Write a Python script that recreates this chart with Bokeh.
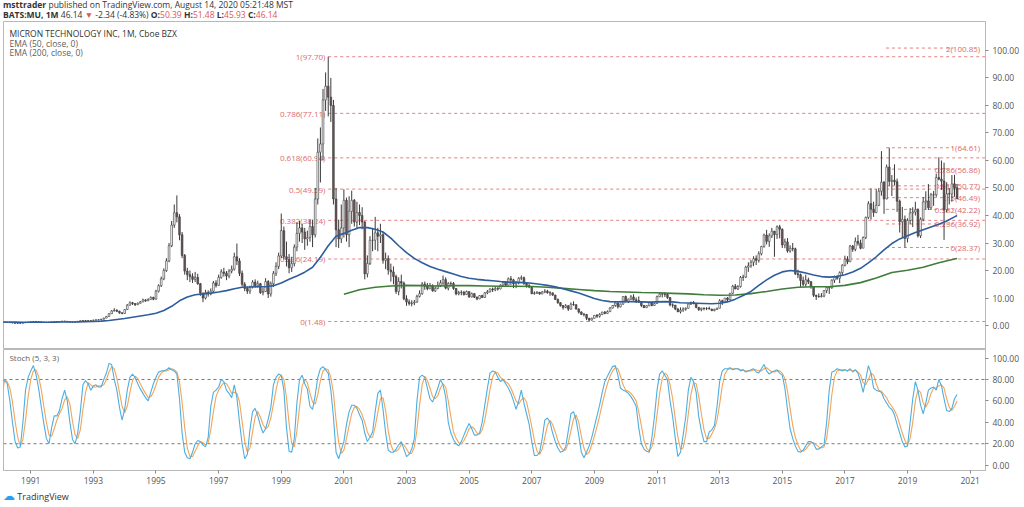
from bokeh.plotting import figure
from bokeh.models import Range1d, FixedTicker, PrintfTickFormatter, Div
from bokeh.layouts import column
from bokeh.embed import file_html
from bokeh.resources import INLINE
from bokeh.core.properties import value

FONT = "Open Sans"

# ---------------- data (monthly bars, Jan 1990 .. Aug 2020) ----------------
START_YEAR = 1990
first_open = 1.25
closes = [
    1.30, 1.25, 1.20, 1.15, 1.05, 0.95, 0.85, 0.80, 0.85, 1.00, 1.15, 1.25,
    1.40, 1.50, 1.45, 1.35, 1.25, 1.20, 1.15, 1.25, 1.35, 1.40, 1.35, 1.45,
    1.60, 1.55, 1.40, 1.30, 1.25, 1.35, 1.55, 1.75, 1.85, 1.80, 1.75, 1.85,
    2.00, 2.05, 2.10, 2.30, 2.70, 3.30, 4.30, 5.30, 5.60, 5.20, 4.60, 4.40,
    5.80, 7.40, 8.30, 8.00, 7.60, 8.10, 8.60, 9.30, 9.00, 9.50, 10.20, 9.60,
    12.50, 14.50, 17.00, 20.00, 23.50, 29.00, 36.50, 41.00, 39.50, 33.00, 25.50, 19.80,
    18.50, 17.80, 16.80, 17.50, 15.20, 11.80, 10.00, 12.00, 11.50, 12.50, 15.50, 14.60,
    17.50, 19.50, 19.00, 18.00, 19.80, 20.50, 25.00, 23.50, 19.00, 15.00, 13.50, 12.50,
    14.00, 15.80, 14.50, 15.20, 12.00, 12.40, 16.00, 11.50, 15.20, 19.00, 21.50, 25.30,
    34.50, 25.00, 24.00, 21.00, 22.50, 28.50, 33.50, 35.50, 34.00, 31.50, 32.00, 36.00,
    33.00, 46.00, 63.00, 66.00, 82.00, 87.00, 83.00, 80.00, 46.00, 34.80, 31.50, 35.50,
    45.50, 33.00, 41.50, 45.50, 37.60, 41.10, 40.00, 37.60, 18.80, 22.60, 31.00, 31.00,
    33.70, 32.50, 33.00, 23.70, 24.30, 20.20, 19.50, 17.80, 12.40, 16.00, 15.40, 9.74,
    8.60, 8.00, 8.20, 8.50, 10.60, 11.60, 15.10, 14.30, 13.40, 14.50, 12.60, 13.50,
    14.60, 15.50, 16.70, 13.60, 15.30, 15.30, 13.50, 11.50, 12.00, 12.10, 11.30, 12.35,
    10.40, 11.60, 10.30, 9.70, 10.90, 10.20, 11.90, 12.30, 13.30, 13.00, 13.50, 13.30,
    14.70, 15.70, 14.70, 17.00, 16.60, 15.10, 15.60, 17.20, 17.40, 15.30, 14.60, 14.00,
    11.60, 11.80, 12.10, 11.50, 12.20, 12.50, 11.90, 11.90, 11.10, 9.50, 8.30, 7.25,
    6.60, 7.20, 5.97, 7.70, 7.60, 6.00, 4.90, 4.10, 4.05, 2.64, 2.00, 2.64,
    3.70, 3.40, 4.06, 4.90, 4.40, 5.06, 6.40, 7.30, 8.20, 6.80, 7.80, 10.56,
    8.70, 9.60, 10.40, 9.35, 9.10, 8.50, 7.30, 6.50, 7.20, 8.30, 7.30, 8.00,
    10.50, 11.40, 11.50, 11.30, 10.20, 7.50, 7.40, 6.00, 5.00, 5.60, 6.00, 6.30,
    7.80, 8.40, 8.10, 6.60, 5.80, 6.30, 6.20, 6.20, 6.00, 5.40, 5.90, 6.30,
    9.00, 8.50, 10.00, 9.40, 11.70, 14.30, 13.30, 14.20, 17.50, 17.60, 21.20, 21.75,
    23.00, 24.30, 23.70, 26.10, 28.70, 32.90, 30.60, 32.60, 34.30, 33.10, 35.90, 35.00,
    29.30, 30.40, 27.10, 28.10, 27.90, 18.80, 18.50, 16.40, 15.00, 16.60, 15.90, 14.20,
    11.00, 10.60, 10.50, 10.75, 12.70, 13.80, 13.70, 16.50, 17.80, 17.20, 19.25, 21.90,
    24.10, 23.20, 28.90, 27.70, 30.60, 29.90, 28.10, 32.00, 39.30, 44.30, 42.30, 41.10,
    43.70, 48.80, 52.10, 46.00, 57.60, 52.40, 52.80, 52.30, 45.20, 37.70, 38.60, 31.70,
    38.20, 40.90, 41.30, 42.10, 32.60, 38.60, 44.90, 45.30, 42.85, 47.55, 47.50, 53.80,
    53.20, 52.50, 42.10, 47.90, 47.80, 51.50, 50.10, 46.14,
]
highs = [
    1.40, 1.35, 1.30, 1.25, 1.20, 1.05, 0.95, 0.90, 0.95, 1.10, 1.20, 1.35,
    1.45, 1.60, 1.60, 1.50, 1.40, 1.30, 1.25, 1.35, 1.45, 1.50, 1.45, 1.55,
    1.70, 1.70, 1.60, 1.45, 1.35, 1.45, 1.65, 1.85, 1.95, 1.95, 1.85, 1.95,
    2.10, 2.20, 2.25, 2.45, 2.85, 3.50, 4.50, 5.60, 6.30, 5.90, 5.40, 4.90,
    6.00, 7.80, 8.80, 8.60, 8.10, 8.40, 8.90, 9.80, 9.60, 9.90, 10.60, 10.50,
    13.00, 15.00, 17.80, 20.80, 24.50, 30.00, 38.00, 44.00, 47.30, 40.50, 34.00, 26.00,
    21.00, 20.00, 19.00, 19.50, 18.80, 15.50, 12.00, 13.00, 12.80, 13.50, 16.20, 16.50,
    18.50, 20.50, 21.00, 19.80, 20.50, 21.80, 26.50, 29.80, 24.50, 20.00, 15.80, 14.20,
    14.50, 16.50, 16.80, 16.30, 15.50, 13.80, 17.20, 16.50, 16.00, 19.80, 23.00, 26.50,
    40.70, 36.00, 30.50, 26.00, 25.00, 29.50, 37.50, 38.00, 37.00, 35.50, 34.50, 38.50,
    38.50, 50.00, 68.00, 72.00, 86.00, 92.00, 97.70, 90.00, 82.00, 50.00, 38.50, 44.00,
    49.50, 46.50, 47.00, 49.00, 46.00, 45.00, 44.00, 43.00, 38.00, 25.50, 32.50, 35.50,
    39.50, 35.50, 37.00, 34.00, 26.50, 25.50, 22.50, 21.50, 18.50, 17.50, 18.50, 16.00,
    11.00, 9.50, 9.20, 9.30, 11.20, 12.80, 15.80, 16.00, 15.50, 15.50, 15.00, 14.20,
    16.00, 16.50, 18.20, 17.50, 15.80, 16.00, 15.80, 13.60, 12.60, 12.80, 12.60, 12.70,
    12.40, 12.00, 11.80, 10.60, 11.00, 11.20, 12.20, 12.90, 13.50, 13.80, 14.20, 14.00,
    15.00, 16.20, 15.80, 17.50, 18.00, 17.00, 16.20, 17.60, 18.20, 17.80, 15.80, 15.00,
    14.00, 12.40, 12.50, 12.20, 12.50, 13.20, 13.00, 12.50, 12.00, 11.20, 9.80, 8.50,
    7.40, 7.80, 7.40, 8.40, 8.80, 7.70, 6.30, 5.20, 4.60, 4.20, 2.80, 2.90,
    3.80, 4.20, 4.50, 5.00, 5.30, 5.50, 6.70, 7.50, 8.50, 8.30, 8.00, 10.60,
    10.90, 9.80, 11.10, 11.40, 10.20, 10.60, 8.80, 7.50, 7.40, 8.60, 8.50, 8.20,
    10.90, 12.00, 12.00, 12.10, 11.60, 10.30, 8.10, 7.50, 6.40, 6.60, 6.60, 6.60,
    7.90, 8.70, 8.90, 8.20, 6.70, 6.50, 6.60, 6.70, 6.90, 6.10, 6.10, 6.50,
    9.60, 9.40, 10.00, 10.40, 11.90, 14.80, 15.10, 14.70, 18.00, 18.50, 21.70, 23.00,
    23.80, 25.20, 25.50, 27.00, 29.00, 33.40, 34.80, 33.50, 35.50, 34.40, 36.40, 36.60,
    35.30, 31.60, 31.80, 29.20, 30.00, 28.30, 20.30, 18.90, 17.80, 18.50, 17.40, 16.20,
    14.30, 11.20, 11.70, 11.80, 12.90, 14.00, 13.90, 16.80, 18.20, 18.40, 19.70, 22.30,
    25.40, 25.20, 29.30, 29.30, 32.00, 32.95, 31.20, 32.40, 39.60, 45.20, 49.90, 45.00,
    49.50, 50.00, 63.40, 52.50, 58.50, 64.66, 54.70, 58.60, 53.40, 45.80, 43.10, 40.00,
    39.00, 42.70, 43.00, 45.00, 42.60, 39.30, 46.70, 48.80, 51.40, 48.20, 48.90, 55.20,
    61.19, 60.00, 59.20, 52.10, 50.00, 54.70, 54.80, 51.48,
]
lows = [
    1.15, 1.15, 1.10, 1.05, 0.95, 0.85, 0.75, 0.70, 0.75, 0.85, 1.00, 1.10,
    1.20, 1.35, 1.35, 1.25, 1.15, 1.10, 1.05, 1.10, 1.20, 1.30, 1.25, 1.30,
    1.40, 1.45, 1.35, 1.20, 1.15, 1.20, 1.35, 1.50, 1.70, 1.70, 1.65, 1.70,
    1.85, 1.90, 1.95, 2.05, 2.25, 2.70, 3.30, 4.20, 5.10, 4.90, 4.30, 4.10,
    4.30, 5.70, 7.30, 7.50, 7.10, 7.40, 8.00, 8.50, 8.60, 8.90, 9.40, 9.20,
    9.40, 12.00, 14.00, 16.50, 19.50, 23.00, 28.50, 35.50, 37.50, 31.00, 24.50, 18.50,
    16.50, 15.80, 15.50, 15.80, 14.80, 10.80, 8.50, 9.50, 10.50, 11.00, 12.20, 13.80,
    14.50, 17.00, 17.80, 16.50, 17.20, 19.00, 20.00, 22.00, 18.00, 14.20, 12.50, 11.50,
    11.50, 13.50, 13.80, 13.80, 11.50, 11.00, 12.20, 10.00, 10.50, 14.00, 18.00, 20.50,
    24.50, 24.00, 21.50, 19.00, 19.50, 21.50, 27.00, 30.50, 30.00, 27.50, 29.00, 30.50,
    28.50, 32.00, 44.00, 52.00, 60.00, 78.00, 76.00, 74.00, 44.00, 28.50, 28.20, 30.00,
    32.00, 30.50, 28.50, 37.00, 36.00, 35.00, 36.50, 35.00, 16.80, 17.50, 22.00, 27.00,
    27.50, 27.00, 30.00, 22.50, 20.50, 18.50, 16.00, 15.00, 11.50, 11.00, 13.50, 9.20,
    7.20, 7.30, 7.00, 7.40, 8.30, 10.20, 11.20, 13.00, 12.80, 13.20, 12.30, 12.20,
    13.20, 14.00, 14.80, 13.20, 12.80, 14.20, 13.00, 11.00, 11.00, 11.00, 10.90, 11.10,
    10.10, 10.20, 10.00, 9.20, 9.60, 10.00, 10.10, 11.40, 12.00, 12.20, 12.50, 12.70,
    13.20, 14.40, 14.20, 14.60, 14.80, 13.60, 13.60, 15.00, 16.50, 14.80, 13.80, 13.60,
    11.40, 11.20, 11.50, 11.20, 11.40, 11.80, 11.60, 10.80, 10.80, 9.30, 7.90, 6.90,
    5.80, 6.30, 5.30, 5.80, 7.20, 5.80, 4.40, 3.80, 3.30, 2.00, 1.48, 1.80,
    2.60, 2.80, 2.90, 3.80, 4.10, 4.30, 4.90, 6.20, 6.80, 6.20, 6.60, 7.60,
    8.40, 8.20, 9.30, 9.10, 8.20, 8.40, 6.70, 6.40, 6.40, 7.00, 7.00, 7.20,
    7.90, 10.30, 10.20, 10.40, 9.70, 7.00, 6.50, 5.60, 4.90, 4.40, 5.00, 5.40,
    6.20, 7.50, 7.70, 6.30, 5.30, 5.20, 5.50, 5.60, 5.90, 5.30, 5.20, 5.70,
    6.30, 7.50, 8.30, 8.60, 9.40, 11.40, 13.20, 12.90, 13.80, 16.20, 17.30, 19.50,
    21.00, 21.60, 22.00, 22.90, 25.50, 28.30, 29.50, 28.60, 31.80, 25.00, 31.50, 31.70,
    28.20, 28.10, 26.50, 26.50, 27.00, 18.40, 17.20, 14.00, 14.20, 14.10, 15.10, 13.40,
    10.40, 9.30, 10.10, 10.20, 10.30, 11.80, 11.50, 13.40, 15.50, 16.60, 15.40, 18.30,
    21.50, 22.30, 23.10, 26.80, 27.00, 29.00, 27.70, 28.50, 31.40, 38.70, 38.50, 39.50,
    40.80, 43.40, 47.20, 40.60, 45.90, 50.60, 47.10, 51.00, 41.30, 33.80, 32.00, 28.39,
    30.20, 36.80, 35.80, 40.00, 32.00, 31.80, 37.90, 42.00, 42.00, 42.00, 43.50, 46.80,
    52.80, 49.30, 31.13, 41.10, 44.00, 45.00, 46.80, 45.93,
]

# EMA(50) read quarterly (Jan/Apr/Jul/Oct from 1990), last value Aug 2020
ema50_quarterly = [
    1.30, 1.28, 1.25, 1.20, 1.18, 1.20, 1.22, 1.24, 1.28, 1.32, 1.35, 1.40,
    1.50, 1.62, 1.85, 2.20, 2.55, 3.00, 3.45, 3.90, 4.50, 5.50, 7.00, 9.00,
    10.40, 11.20, 11.50, 11.80, 12.20, 12.70, 13.40, 13.90, 14.00, 14.10, 14.10, 14.50,
    15.50, 16.80, 18.00, 19.40, 21.20, 24.80, 29.00, 32.50, 33.50, 34.60, 35.60, 35.60,
    35.00, 34.00, 31.80, 29.00, 26.50, 24.40, 22.80, 21.50, 20.50, 19.60, 18.70, 17.80,
    17.20, 16.80, 16.50, 16.30, 16.00, 15.80, 15.70, 15.60, 15.40, 15.00, 14.60, 14.10,
    13.40, 12.60, 11.80, 10.80, 9.80, 9.10, 8.70, 8.60, 8.70, 8.70, 8.60, 8.50,
    8.60, 8.70, 8.60, 8.30, 8.20, 8.10, 8.00, 7.90, 8.10, 8.60, 9.60, 10.90,
    12.40, 14.60, 16.60, 18.30, 19.50, 20.00, 19.70, 19.10, 18.40, 17.80, 17.60, 17.80,
    18.50, 19.50, 20.80, 22.80, 25.00, 27.50, 29.80, 31.50, 32.60, 33.80, 34.80, 35.80,
    36.80, 38.00, 39.50,
]
ema50_last = 40.0
# EMA(200) read half-yearly (Jan/Jul from 2001), last value Aug 2020
EMA200_START_YEAR = 2001
ema200_half = [
    11.4, 13.0, 13.9, 14.4, 14.6, 14.5, 14.4, 14.5, 14.5, 14.4,
    14.3, 14.3, 14.2, 13.9, 13.5, 13.1, 12.7, 12.4, 12.2, 12.0,
    11.9, 11.7, 11.5, 11.2, 11.0, 11.1, 11.6, 12.4, 13.3, 13.9,
    14.1, 14.1, 14.6, 15.6, 17.3, 19.3, 20.1, 21.2, 22.8, 24.2,
]
ema200_last = 24.4

# Stoch (5, 3, 3): %K (blue) and %D (orange), monthly
stoch_k = [
    81, 80, 79, 76, 60, 40, 22, 16, 17, 40, 70, 82,
    88, 93, 85, 72, 55, 39, 25, 20, 35, 46, 46, 51,
    62, 70, 60, 40, 24, 20, 30, 50, 75, 79, 76, 70,
    74, 75, 73, 73, 80, 86, 95, 94, 80, 70, 54, 42,
    52, 70, 82, 85, 82, 76, 71, 67, 63, 60, 68, 76,
    82, 87, 88, 88, 89, 91, 89, 88, 85, 62, 30, 12,
    7, 6, 12, 20, 23, 22, 19, 17, 26, 55, 68, 70,
    73, 80, 78, 70, 67, 63, 75, 63, 40, 20, 6, 10,
    33, 50, 53, 46, 37, 30, 34, 43, 54, 75, 82, 85,
    84, 70, 35, 13, 12, 25, 58, 80, 84, 76, 71, 55,
    52, 65, 82, 90, 92, 89, 86, 70, 45, 12, 6, 14,
    22, 38, 50, 56, 56, 53, 47, 42, 30, 22, 26, 31,
    50, 67, 70, 52, 30, 14, 12, 12, 15, 19, 22, 15,
    8, 10, 15, 25, 60, 82, 84, 82, 72, 62, 59, 65,
    72, 80, 75, 64, 40, 30, 24, 20, 18, 22, 28, 34,
    39, 34, 28, 28, 30, 40, 56, 72, 86, 88, 87, 82,
    78, 80, 76, 72, 67, 60, 52, 60, 70, 58, 48, 38,
    22, 9, 9, 12, 25, 42, 44, 40, 30, 22, 16, 12,
    13, 17, 32, 48, 50, 42, 28, 12, 7, 12, 18, 26,
    36, 46, 56, 68, 78, 83, 88, 92, 93, 84, 72, 70,
    69, 67, 64, 60, 55, 35, 20, 15, 13, 12, 25, 45,
    70, 85, 88, 84, 80, 60, 45, 25, 8, 12, 28, 45,
    70, 82, 78, 68, 45, 32, 22, 22, 31, 33, 37, 55,
    78, 88, 90, 90, 91, 89, 90, 90, 88, 89, 87, 88,
    89, 90, 87, 86, 90, 94, 88, 85, 87, 88, 89, 86,
    84, 72, 52, 34, 25, 18, 13, 12, 14, 18, 22, 22,
    20, 15, 15, 17, 19, 40, 70, 87, 88, 90, 89, 88,
    89, 88, 90, 87, 89, 86, 78, 68, 80, 93, 86, 72,
    70, 69, 68, 62, 58, 54, 52, 47, 38, 30, 22, 17,
    18, 40, 62, 78, 70, 56, 48, 58, 70, 72, 73, 70,
    80, 74, 62, 51, 50, 53, 62, 66,
]
stoch_d = [
    40, 65, 80, 78, 72, 59, 41, 26, 18, 24, 42, 64,
    80, 88, 89, 83, 71, 55, 40, 28, 27, 34, 42, 48,
    53, 61, 64, 57, 41, 28, 25, 33, 52, 68, 77, 75,
    73, 73, 74, 74, 75, 80, 87, 92, 90, 81, 68, 55,
    49, 55, 68, 79, 83, 81, 76, 71, 67, 63, 64, 68,
    75, 82, 86, 88, 88, 89, 90, 89, 87, 78, 59, 35,
    16, 8, 8, 13, 18, 22, 21, 19, 21, 33, 50, 64,
    70, 74, 77, 76, 72, 67, 68, 67, 59, 41, 22, 12,
    16, 31, 45, 50, 45, 38, 34, 36, 44, 57, 70, 81,
    84, 80, 63, 39, 20, 17, 32, 54, 74, 80, 77, 67,
    59, 57, 66, 79, 88, 90, 89, 82, 67, 42, 21, 11,
    14, 25, 37, 48, 54, 55, 52, 47, 40, 31, 26, 26,
    36, 49, 62, 63, 51, 32, 19, 13, 13, 15, 19, 19,
    15, 11, 11, 17, 33, 56, 75, 83, 79, 72, 64, 62,
    65, 72, 76, 73, 60, 45, 31, 25, 21, 20, 23, 28,
    34, 36, 34, 30, 29, 33, 42, 56, 71, 82, 87, 86,
    82, 80, 78, 76, 72, 66, 60, 57, 61, 63, 59, 48,
    36, 23, 13, 10, 15, 26, 37, 42, 38, 31, 23, 17,
    14, 14, 21, 32, 43, 47, 40, 27, 16, 10, 12, 19,
    27, 36, 46, 57, 67, 76, 83, 88, 91, 90, 83, 75,
    70, 69, 67, 64, 60, 50, 37, 23, 16, 13, 17, 27,
    47, 67, 81, 86, 84, 75, 62, 43, 26, 15, 16, 28,
    48, 66, 77, 76, 64, 48, 33, 25, 25, 29, 34, 42,
    57, 74, 85, 89, 90, 90, 90, 90, 89, 89, 88, 88,
    88, 89, 89, 88, 88, 90, 91, 89, 87, 87, 88, 88,
    86, 81, 69, 53, 37, 26, 19, 14, 13, 15, 18, 21,
    21, 19, 17, 16, 17, 25, 43, 66, 82, 88, 89, 89,
    89, 88, 89, 88, 89, 87, 84, 77, 75, 80, 86, 84,
    76, 70, 69, 66, 63, 58, 55, 51, 46, 38, 30, 23,
    19, 25, 40, 60, 70, 68, 58, 54, 59, 67, 72, 72,
    74, 75, 72, 62, 54, 51, 55, 60,
]
stoch_levels = [20, 80]

# Fibonacci retracements
fib_left_ratio = ["0", "0.236", "0.382", "0.5", "0.618", "0.786", "1"]
fib_left_price = [1.48, 24.19, 38.24, 49.59, 60.94, 77.11, 97.70]
fib_right_ratio = ["0", "0.236", "0.382", "0.5", "0.618", "0.786", "1", "2"]
fib_right_price = [28.37, 36.92, 42.22, 46.49, 50.77, 56.86, 64.61, 100.85]

# axes
price_ticks = [0, 10, 20, 30, 40, 50, 60, 70, 80, 90, 100]
stoch_ticks = [0, 20, 40, 60, 80, 100]
year_ticks = [1991, 1993, 1995, 1997, 1999, 2001, 2003, 2005, 2007, 2009,
              2011, 2013, 2015, 2017, 2019, 2021]
year_labels = ["1991", "1993", "1995", "1997", "1999", "2001", "2003", "2005", "2007", "2009",
               "2011", "2013", "2015", "2017", "2019", "2021"]
legend_texts = ["MICRON TECHNOLOGY INC, 1M, Cboe BZX", "EMA (50, close, 0)", "EMA (200, close, 0)"]

# ---------------- derived positions ----------------
n = len(closes)
xs = [START_YEAR + i / 12 for i in range(n)]
opens = [first_open] + closes[:-1]
body_top = [max(o, c) for o, c in zip(opens, closes)]
body_bot = [min(o, c) for o, c in zip(opens, closes)]
body_fill = ["#ffffff" if c >= o else "#6b5353" for o, c in zip(opens, closes)]

ema50_x = [START_YEAR + 3 * i / 12 for i in range(len(ema50_quarterly))] + [xs[-1]]
ema50_y = ema50_quarterly + [ema50_last]
ema200_x = [EMA200_START_YEAR + 6 * i / 12 for i in range(len(ema200_half))] + [xs[-1]]
ema200_y = ema200_half + [ema200_last]

W = 1022
X_LEFT, X_RIGHT = 1990.13, 2021.49
xr = Range1d(X_LEFT, X_RIGHT)

AX_COLOR = "#b8b8b8"
LBL_COLOR = "#555555"
FIB_COLOR = "#e06a6a"


def style_y(ax, ticks):
    ax.ticker = FixedTicker(ticks=ticks)
    ax.formatter = PrintfTickFormatter(format="%.2f")
    ax.major_label_text_font = FONT
    ax.major_label_text_font_size = "8.5px"
    ax.major_label_text_color = LBL_COLOR
    ax.axis_line_color = AX_COLOR
    ax.major_tick_line_color = "#888888"
    ax.major_tick_out = 3
    ax.major_tick_in = 0
    ax.minor_tick_line_color = None
    ax.major_label_standoff = 4


# ---------------- main price panel ----------------
p = figure(width=W, height=328, x_range=xr, y_range=Range1d(-8.7, 110.5),
           output_backend="svg", toolbar_location=None,
           x_axis_location=None, y_axis_location="right",
           min_border_left=3, min_border_right=0, min_border_top=0, min_border_bottom=0,
           outline_line_color=AX_COLOR, background_fill_color="white",
           border_fill_color="white")
p.xgrid.visible = False
p.ygrid.visible = False
style_y(p.yaxis[0], price_ticks)

# fib retracement (2000 high -> 2008 low), labels on the left
nl = len(fib_left_price)
p.segment(x0=[2000.50] * nl, y0=fib_left_price, x1=[X_RIGHT] * nl, y1=fib_left_price,
          line_color=FIB_COLOR, line_width=1, line_dash="3 3", line_alpha=0.85)
p.text(x=[2000.41] * nl, y=fib_left_price,
       text=[f"{r}({v:.2f})" for r, v in zip(fib_left_ratio, fib_left_price)],
       text_align="right", text_baseline="middle", text_font=value(FONT),
       text_font_size="8px", text_color=FIB_COLOR)

# fib retracement (2018 high -> 2018 low), labels on the right
nr = len(fib_right_price)
p.segment(x0=[2018.31] * nr, y0=fib_right_price, x1=[2020.45] * nr, y1=fib_right_price,
          line_color=FIB_COLOR, line_width=1, line_dash="3 3", line_alpha=0.85)
p.text(x=[2021.32] * nr, y=fib_right_price,
       text=[f"{r}({v:.2f})" for r, v in zip(fib_right_ratio, fib_right_price)],
       text_align="right", text_baseline="middle", text_font=value(FONT),
       text_font_size="8px", text_color=FIB_COLOR)

# candles
p.segment(x0=xs, y0=highs, x1=xs, y1=lows, line_color="#3a3a3a", line_width=1)
p.vbar(x=xs, width=0.055, top=body_top, bottom=body_bot, fill_color=body_fill,
       line_color="#3a3a3a", line_width=0.6)

# EMAs
p.line(ema200_x, ema200_y, line_color="#3f7d3a", line_width=1.6)
p.line(ema50_x, ema50_y, line_color="#2e5d9c", line_width=1.6)

# legend texts
p.text(x=[1990.32] * 3, y=[106.1, 102.5, 99.2], text=legend_texts,
       text_align="left", text_baseline="middle", text_font=value(FONT),
       text_font_size="8.5px", text_color=["#333333", "#606060", "#606060"])

# ---------------- stochastic panel ----------------
s = figure(width=W, height=137, x_range=xr, y_range=Range1d(-5, 108),
           output_backend="svg", toolbar_location=None,
           x_axis_location="below", y_axis_location="right",
           min_border_left=3, min_border_right=0, min_border_top=0, min_border_bottom=0,
           outline_line_color=AX_COLOR, background_fill_color="white",
           border_fill_color="white")
s.xgrid.visible = False
s.ygrid.visible = False
style_y(s.yaxis[0], stoch_ticks)
xa = s.xaxis[0]
xa.ticker = FixedTicker(ticks=year_ticks)
xa.major_label_overrides = dict(zip(year_ticks, year_labels))
xa.major_label_text_font = FONT
xa.major_label_text_font_size = "8.5px"
xa.major_label_text_color = LBL_COLOR
xa.axis_line_color = AX_COLOR
xa.major_tick_line_color = "#888888"
xa.major_tick_out = 3
xa.major_tick_in = 0
xa.minor_tick_line_color = None
xa.major_label_standoff = 3

s.segment(x0=[X_LEFT] * 2, y0=stoch_levels, x1=[X_RIGHT] * 2, y1=stoch_levels,
          line_color="#7a7a7a", line_width=1, line_dash="3 3")
s.line(xs, stoch_d, line_color="#f2a55a", line_width=1.1)
s.line(xs, stoch_k, line_color="#4daee0", line_width=1.1)
s.text(x=[1990.32], y=[100.5], text=["Stoch (5, 3, 3)"], text_align="left",
       text_baseline="middle", text_font=value(FONT), text_font_size="8px",
       text_color=["#606060"])

# ---------------- header / footer ----------------
RED = "#e05555"
header_html = (
    f"<div style=\"font-family:'{FONT}';font-size:8.5px;line-height:9.5px;color:#333;"
    "white-space:nowrap;padding:0 0 0 3px;\">"
    "<div><b>msttrader</b> published on TradingView.com, August 14, 2020 05:21:48 MST</div>"
    "<div><b>BATS:MU, 1M</b> 46.14 "
    f"<span style='color:{RED}'>&#9660;</span> -2.34 (-4.83%) "
    f"<b>O:</b><span style='color:{RED}'>50.39</span> "
    f"<b>H:</b><span style='color:{RED}'>51.48</span> "
    f"<b>L:</b><span style='color:{RED}'>45.93</span> "
    f"<b>C:</b><span style='color:{RED}'>46.14</span></div>"
    "</div>"
)
header = Div(text=header_html, width=W, height=21, margin=(0, 0, 0, 0))
footer_html = (
    f"<div style=\"font-family:'{FONT}';font-size:9px;line-height:19px;color:#333;"
    "white-space:nowrap;padding-left:3px;\">"
    "<span style='color:#2a9df4;font-size:12px;'>&#9729;</span> TradingView</div>"
)
footer = Div(text=footer_html, width=W, height=19, margin=(0, 0, 0, 0))

layout = column(header, p, s, footer, spacing=0)
open("out.html", "w").write(file_html(layout, INLINE))
